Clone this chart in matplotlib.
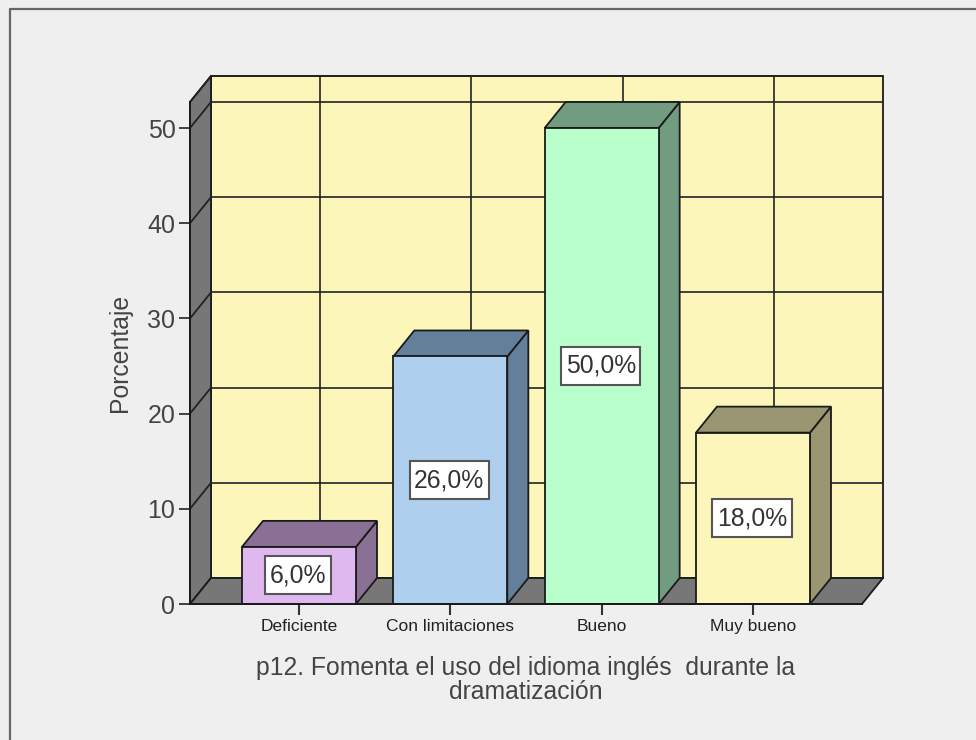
import matplotlib
matplotlib.use('Agg')
import matplotlib.pyplot as plt
from matplotlib.lines import Line2D
from matplotlib.patches import Polygon, Rectangle

plt.rcParams['font.family'] = ['Liberation Sans', 'DejaVu Sans']

categorias = ['Deficiente', 'Con limitaciones', 'Bueno', 'Muy bueno']
porcentajes = [6.0, 26.0, 50.0, 18.0]
etiquetas = ['6,0%', '26,0%', '50,0%', '18,0%']
colores_frente = ['#dfb8f0', '#aecfee', '#b8ffcc', '#fcf6bb']
colores_lado = ['#8a7094', '#647f9a', '#719c7f', '#9a9672']
yticks = [0, 10, 20, 30, 40, 50]
xlabel = 'p12. Fomenta el uso del idioma inglés  durante la\ndramatización'

fondo = '#efefef'
pared = '#fcf6bb'
gris = '#777777'
ancho = 114 / 151.33

fig = plt.figure(figsize=(9.76, 7.4), dpi=100, facecolor=fondo)
ax = fig.add_axes([190 / 976, 136 / 740, 672 / 976, 502 / 740])
ax.set_facecolor('none')
ax.set_xlim(-109 / 151.33, 563 / 151.33)
ax.set_ylim(0, 502 / 9.52)

# profundidad del efecto 3D en unidades de datos
dx = 21 / 151.33
dy = 26 / 9.52
x0, x1 = ax.get_xlim()
y0, y1 = ax.get_ylim()


def poly(puntos, color, z, ec='#1a1a1a', lw=1.3):
    ax.add_patch(Polygon(puntos, closed=True, facecolor=color, edgecolor=ec,
                         linewidth=lw, zorder=z, clip_on=False, joinstyle='miter'))


# paredes
poly([(x0 + dx, y0 + dy), (x1 + dx, y0 + dy), (x1 + dx, y1 + dy), (x0 + dx, y1 + dy)], pared, 1)
poly([(x0, y0), (x0 + dx, y0 + dy), (x0 + dx, y1 + dy), (x0, y1)], gris, 1)
poly([(x0, y0), (x1, y0), (x1 + dx, y0 + dy), (x0 + dx, y0 + dy)], gris, 1.5)

# rejilla
for v in yticks[1:] + [y1]:
    ax.plot([x0 + dx, x1 + dx], [v + dy, v + dy], color='#222222', lw=1.4, alpha=0.85,
            zorder=2, clip_on=False, solid_capstyle='butt')
    ax.plot([x0, x0 + dx], [v, v + dy], color='#222222', lw=1.3, zorder=2, clip_on=False)
for i in range(len(categorias)):
    ax.plot([i + dx, i + dx], [y0 + dy, y1 + dy], color='#222222', lw=1.4, alpha=0.85,
            zorder=2, clip_on=False, solid_capstyle='butt')

# barras
for i, v in enumerate(porcentajes):
    izq = i - ancho / 2
    der = i + ancho / 2
    poly([(der, 0), (der + dx, dy), (der + dx, v + dy), (der, v)], colores_lado[i], 3)
    poly([(izq, v), (der, v), (der + dx, v + dy), (izq + dx, v + dy)], colores_lado[i], 3)
ax.bar(range(len(categorias)), porcentajes, width=ancho, color=colores_frente,
       edgecolor='#1a1a1a', linewidth=1.3, zorder=4, clip_on=False)

# etiquetas con caja mas alta que ancha de margen
renderer = fig.canvas.get_renderer()
for i, v in enumerate(porcentajes):
    t = ax.text(i - 1 / 151.33, v / 2, etiquetas[i], ha='center', va='center', fontsize=17.8,
                color='#333333', zorder=6)
    caja_w = (t.get_window_extent(renderer).width + 9) / 151.33
    caja_h = 38 / 9.52
    ax.add_patch(Rectangle((i - 1 / 151.33 - caja_w / 2, v / 2 - caja_h / 2), caja_w, caja_h,
                           facecolor='white', edgecolor='#555555', linewidth=1.5, zorder=5,
                           clip_on=False))

for lado in ['top', 'right']:
    ax.spines[lado].set_visible(False)
for lado in ['left', 'bottom']:
    ax.spines[lado].set_linewidth(1.4)
    ax.spines[lado].set_color('#1a1a1a')
    ax.spines[lado].set_zorder(6)

ax.set_xticks(range(len(categorias)))
ax.set_xticklabels(categorias, fontsize=12.5, color='#222222')
ax.set_yticks(yticks)
ax.tick_params(axis='y', labelsize=18, length=8, width=1.3, pad=2.5, labelcolor='#444444', color='#333333')
ax.tick_params(axis='x', length=8, width=1.5, pad=2.5, color='#333333')
ax.set_ylabel('Porcentaje', fontsize=17.8, color='#444444', labelpad=11)
ax.set_xlabel(xlabel, fontsize=17.8, color='#444444', labelpad=16, linespacing=1.0)

# marco exterior
fig.add_artist(Line2D([9.5 / 976, 9.5 / 976, 1], [0, 1 - 8.5 / 740, 1 - 8.5 / 740],
                      color='#666666', lw=1.6))

fig.savefig('out.png', dpi=100, facecolor=fondo)
